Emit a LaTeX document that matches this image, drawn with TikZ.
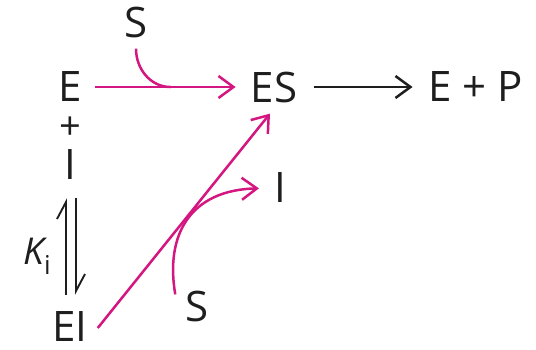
\documentclass[tikz,border=0pt]{standalone}
\usepackage{fontspec}
\setmainfont{Open Sans}
\usepackage{tikz}
\usetikzlibrary{arrows.meta, calc}
\definecolor{InhMagenta}{RGB}{212,22,128}
\definecolor{InhBlack}{RGB}{30,30,30}

\begin{document}
\begin{tikzpicture}[x=1pt, y=-1pt,
          sp/.style={inner sep=0pt, text=InhBlack,
                     font=\fontsize{42}{48}\selectfont},
          arr/.style={-{Straight Barb[length=15pt, width=22pt]}, line width=2.5pt},
          curv/.style={line width=2.5pt, InhMagenta},
          harp/.style={-{Straight Barb[harpoon, length=17pt, width=18pt]},
                       line width=1.9pt, InhBlack}
        ]
        \useasboundingbox (0,0) rectangle (536,349);

        % Main line: E + S -> ES -> E + P
        \node[sp] (Enz) at (70, 87) {E};
        \node[sp] (ES)  at (274, 87) {ES};
        \node[sp] (EP)  at (476, 87) {E + P};
        \node[sp] (Stop) at (136, 22) {S};
        \draw[arr, InhMagenta, shorten <=13pt, shorten >=15pt] (Enz.east)--(ES.west);
        \draw[arr, InhBlack, shorten <=17pt, shorten >=16pt] (ES.east)--(EP.west);
        \draw[curv] ([yshift=-11pt]Stop.south) to[out=-90, in=180] ([xshift=-80pt]ES.west);

        % Inhibitor binding (left)
        \node[sp, font=\fontsize{38}{40}\selectfont] (plus) at (70, 128) {+};
        \node[sp] (Inh)  at (70, 165) {I};
        \node[sp] (EI)   at (70, 327) {EI};
        \node[sp, font=\fontsize{37}{40}\selectfont] (Ki) at (37, 256)
             {\itshape K\upshape\raisebox{-10pt}{\fontsize{26}{28}\selectfont i}};
        \draw[harp] ([xshift=-4pt, yshift=17pt]EI.north)--([xshift=-4pt, yshift=-18pt]Inh.south);
        \draw[harp] ([xshift=6pt, yshift=-18pt]Inh.south)--([xshift=6pt, yshift=17pt]EI.north);

        % EI + S -> ES, releasing I
        \node[sp] (Iout) at (280, 188) {I};
        \node[sp] (Sbot) at (197, 306) {S};
        \draw[arr, InhMagenta] ([xshift=10pt, yshift=-1pt]EI.east)--([xshift=-4pt, yshift=-11pt]ES.south);
        \draw[arr, InhMagenta, shorten >=15pt] ([xshift=-10pt, yshift=-4pt]Sbot.north west)
             .. controls (165, 235) and (190, 190) .. (Iout.west);
      \end{tikzpicture}
\end{document}
